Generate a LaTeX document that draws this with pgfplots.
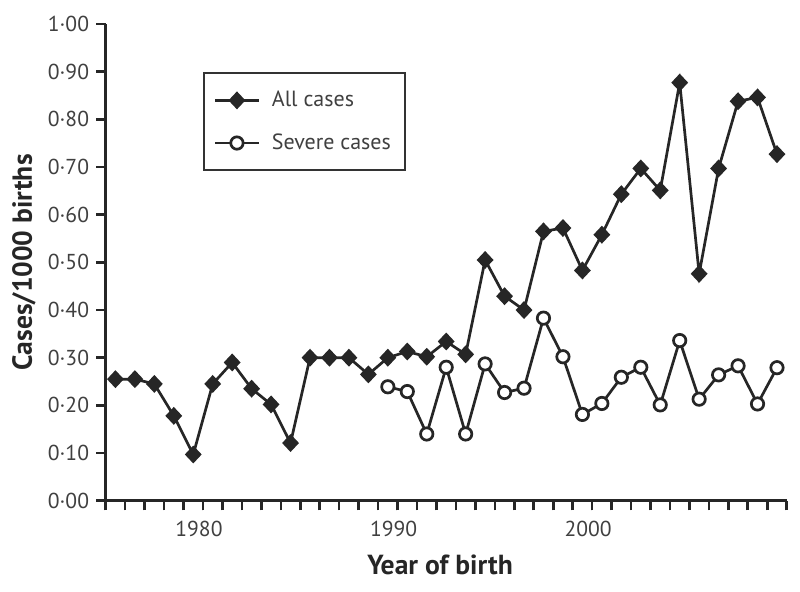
\documentclass[border=0pt]{standalone}
\usepackage{fontspec}
\setmainfont{PT Sans}
\usepackage{pgfplots}
\pgfplotsset{compat=1.18}
\begin{document}
\begin{tikzpicture}
\begin{axis}[
  scale only axis, width=340.5pt, height=238.35pt,
  xmin=1975, xmax=2010, ymin=0, ymax=1,
  clip=false,
  axis lines=left,
  axis line style={-, line width=1.6pt, black!85},
  tick align=outside,
  tick style={line width=1.3pt, black!85},
  major tick length=4.8pt, minor tick length=4.8pt,
  xtick={1980,1990,2000},
  xticklabels={1980,1990,2000},
  minor xtick={1975,1976,...,2010},
  ytick={0,0.1,0.2,0.3,0.4,0.5,0.6,0.7,0.8,0.9,1.0},
  yticklabels={0·00,0·10,0·20,0·30,0·40,0·50,0·60,0·70,0·80,0·90,1·00},
  tick label style={font=\fontsize{10.8}{12}\selectfont, text=black!75},
  xticklabel style={yshift=-2pt, xshift=-2pt},
  xlabel={Year of birth},
  ylabel={Cases/1000 births},
  label style={font=\fontsize{13.8}{15}\selectfont\bfseries, text=black!85},
  xlabel style={at={(axis description cs:0.491,-0.135)}, anchor=center},
  ylabel style={at={(axis description cs:-0.12,0.5)}, anchor=center},
  legend style={at={(axis description cs:0.143,0.899)}, anchor=north west,
    draw=black!80, line width=0.9pt, font=\fontsize{11}{12}\selectfont,
    text=black!75, inner xsep=5pt, inner ysep=7pt, row sep=8pt, column sep=4pt},
  legend cell align=left,
  legend image code/.code={\draw[mark repeat=2, mark phase=2] plot coordinates {(0cm,0cm) (0.38cm,0cm) (0.76cm,0cm)};},
]
\addplot[black!85, line width=1.35pt, mark=diamond*, mark size=3.5pt, mark options={xscale=1.25, solid}] coordinates {
(1975.5,0.255) (1976.5,0.255) (1977.5,0.245) (1978.5,0.178) (1979.5,0.097)
(1980.5,0.245) (1981.5,0.290) (1982.5,0.235) (1983.5,0.202) (1984.5,0.121)
(1985.5,0.300) (1986.5,0.300) (1987.5,0.300) (1988.5,0.265) (1989.5,0.300)
(1990.5,0.313) (1991.5,0.302) (1992.5,0.334) (1993.5,0.307) (1994.5,0.505)
(1995.5,0.429) (1996.5,0.400) (1997.5,0.565) (1998.5,0.572) (1999.5,0.483)
(2000.5,0.558) (2001.5,0.643) (2002.5,0.697) (2003.5,0.651) (2004.5,0.877)
(2005.5,0.476) (2006.5,0.697) (2007.5,0.838) (2008.5,0.846) (2009.5,0.727)
};
\addlegendentry{All cases}
\addplot[black!85, line width=1.35pt, mark=*, mark size=3.1pt, mark options={fill=white, solid}] coordinates {
(1989.5,0.239) (1990.5,0.229) (1991.5,0.140) (1992.5,0.280) (1993.5,0.140)
(1994.5,0.287) (1995.5,0.227) (1996.5,0.236) (1997.5,0.383) (1998.5,0.302)
(1999.5,0.181) (2000.5,0.204) (2001.5,0.259) (2002.5,0.280) (2003.5,0.201)
(2004.5,0.336) (2005.5,0.213) (2006.5,0.264) (2007.5,0.283) (2008.5,0.203)
(2009.5,0.279)
};
\addlegendentry{Severe cases}
\end{axis}
\path (current axis.south west) ++(-52.85pt,-45.15pt) coordinate (bl);
\path (current axis.north east) ++(6.65pt,12pt) coordinate (tr);
\pgfresetboundingbox
\path[use as bounding box] (bl) rectangle (tr);
\end{tikzpicture}
\end{document}
